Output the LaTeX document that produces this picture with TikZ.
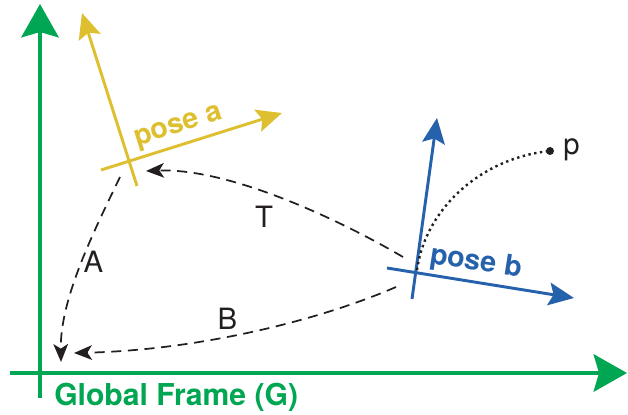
\documentclass[tikz,border=0pt]{standalone}
\usepackage{fontspec}
\setmainfont{TeX Gyre Heros}
\usepackage{xcolor}
\usetikzlibrary{arrows.meta}
\definecolor{framegreen}{RGB}{0,166,81}
\definecolor{poseyellow}{RGB}{221,191,47}
\definecolor{poseblue}{RGB}{38,97,172}
\definecolor{inkgrey}{RGB}{35,31,32}

\begin{document}
\begin{tikzpicture}[
	x=0.75pt, y=-0.75pt,
	font=\fontsize{22}{26}\selectfont,
	frameaxis/.style={
		draw=framegreen, line width=3.2pt,
		-{Stealth[length=25pt,width=28pt,inset=4pt]}
	},
	poseaxis/.style={
		line width=2.2pt,
		-{Stealth[length=19pt,width=17pt,inset=3.5pt]}
	},
	trans/.style={
		draw=inkgrey, line width=1.3pt,
		dash pattern=on 7.5pt off 5pt,
		-{Stealth[length=13.5pt,width=11pt,inset=3.5pt]}
	},
	ray/.style={draw=inkgrey, line width=1.8pt, dash pattern=on 1.8pt off 2.6pt},
	tag/.style={inner sep=0pt, text=inkgrey},
	poselabel/.style={inner sep=0pt, font=\fontsize{21.5}{25}\selectfont\bfseries}
	]
	\useasboundingbox (0,0) rectangle (628,414);
	
	%% ─── GLOBAL FRAME ────────────────────────────────────────────
	\coordinate (gx0) at (10,373);
	\coordinate (gx)  at (627,373);
	\coordinate (gy0) at (40,398);
	\coordinate (gy)  at (40,4);
	\draw[frameaxis] (gx0) -- (gx);
	\draw[frameaxis] (gy0) -- (gy);
	\node[anchor=base west, inner sep=0pt, text=framegreen, font=\fontsize{22.6}{27}\selectfont\bfseries]
	(global) at (54,405) {Global Frame (G)};
	
	%% ─── POSE A ──────────────────────────────────────────────────
	\coordinate (ay0) at (137,186);
	\coordinate (ay)  at (82,13);
	\coordinate (ax0) at (101,170);
	\coordinate (ax)  at (282,113);
	\draw[poseaxis, draw=poseyellow] (ay0) -- (ay);
	\draw[poseaxis, draw=poseyellow] (ax0) -- (ax);
	\node[poselabel, text=poseyellow, rotate=17.5] (labela) at (179,128) {pose a};
	
	%% ─── POSE B ──────────────────────────────────────────────────
	\coordinate (by0) at (412,299);
	\coordinate (by)  at (437,118);
	\coordinate (bx0) at (387,268);
	\coordinate (bx)  at (574,298);
	\draw[poseaxis, draw=poseblue] (by0) -- (by);
	\draw[poseaxis, draw=poseblue] (bx0) -- (bx);
	\node[poselabel, text=poseblue, rotate=-9] (labelb) at (476,263) {pose b};
	
	%% ─── POINT P ─────────────────────────────────────────────────
	\coordinate (bo) at (417,270);
	\node[circle, fill=inkgrey, inner sep=0pt, minimum size=6pt] (p) at (550,151) {};
	\node[tag] (plabel) at (571.5,149.5) {p};
	\draw[ray] (bo) .. controls (425,210) and (480,158) .. (p.center);
	
	%% ─── TRANSFORMS ──────────────────────────────────────────────
	\coordinate (tstart) at (403,257);
	\coordinate (tend)   at (146,171);
	\coordinate (astart) at (120,177);
	\coordinate (aend)   at (61,362);
	\coordinate (bstart) at (396,287);
	\coordinate (bend)   at (74,353);
	\draw[trans] (tstart) .. controls (340,220) and (230,168) .. (tend);
	\draw[trans] (astart) .. controls (92,235) and (60,300) .. (aend);
	\draw[trans] (bstart) .. controls (320,320) and (200,350) .. (bend);
	\node[tag] (T) at (264,216.5) {T};
	\node[tag] (A) at (93.5,261.5) {A};
	\node[tag] (B) at (227.5,318.5) {B};
	
\end{tikzpicture}
\end{document}
